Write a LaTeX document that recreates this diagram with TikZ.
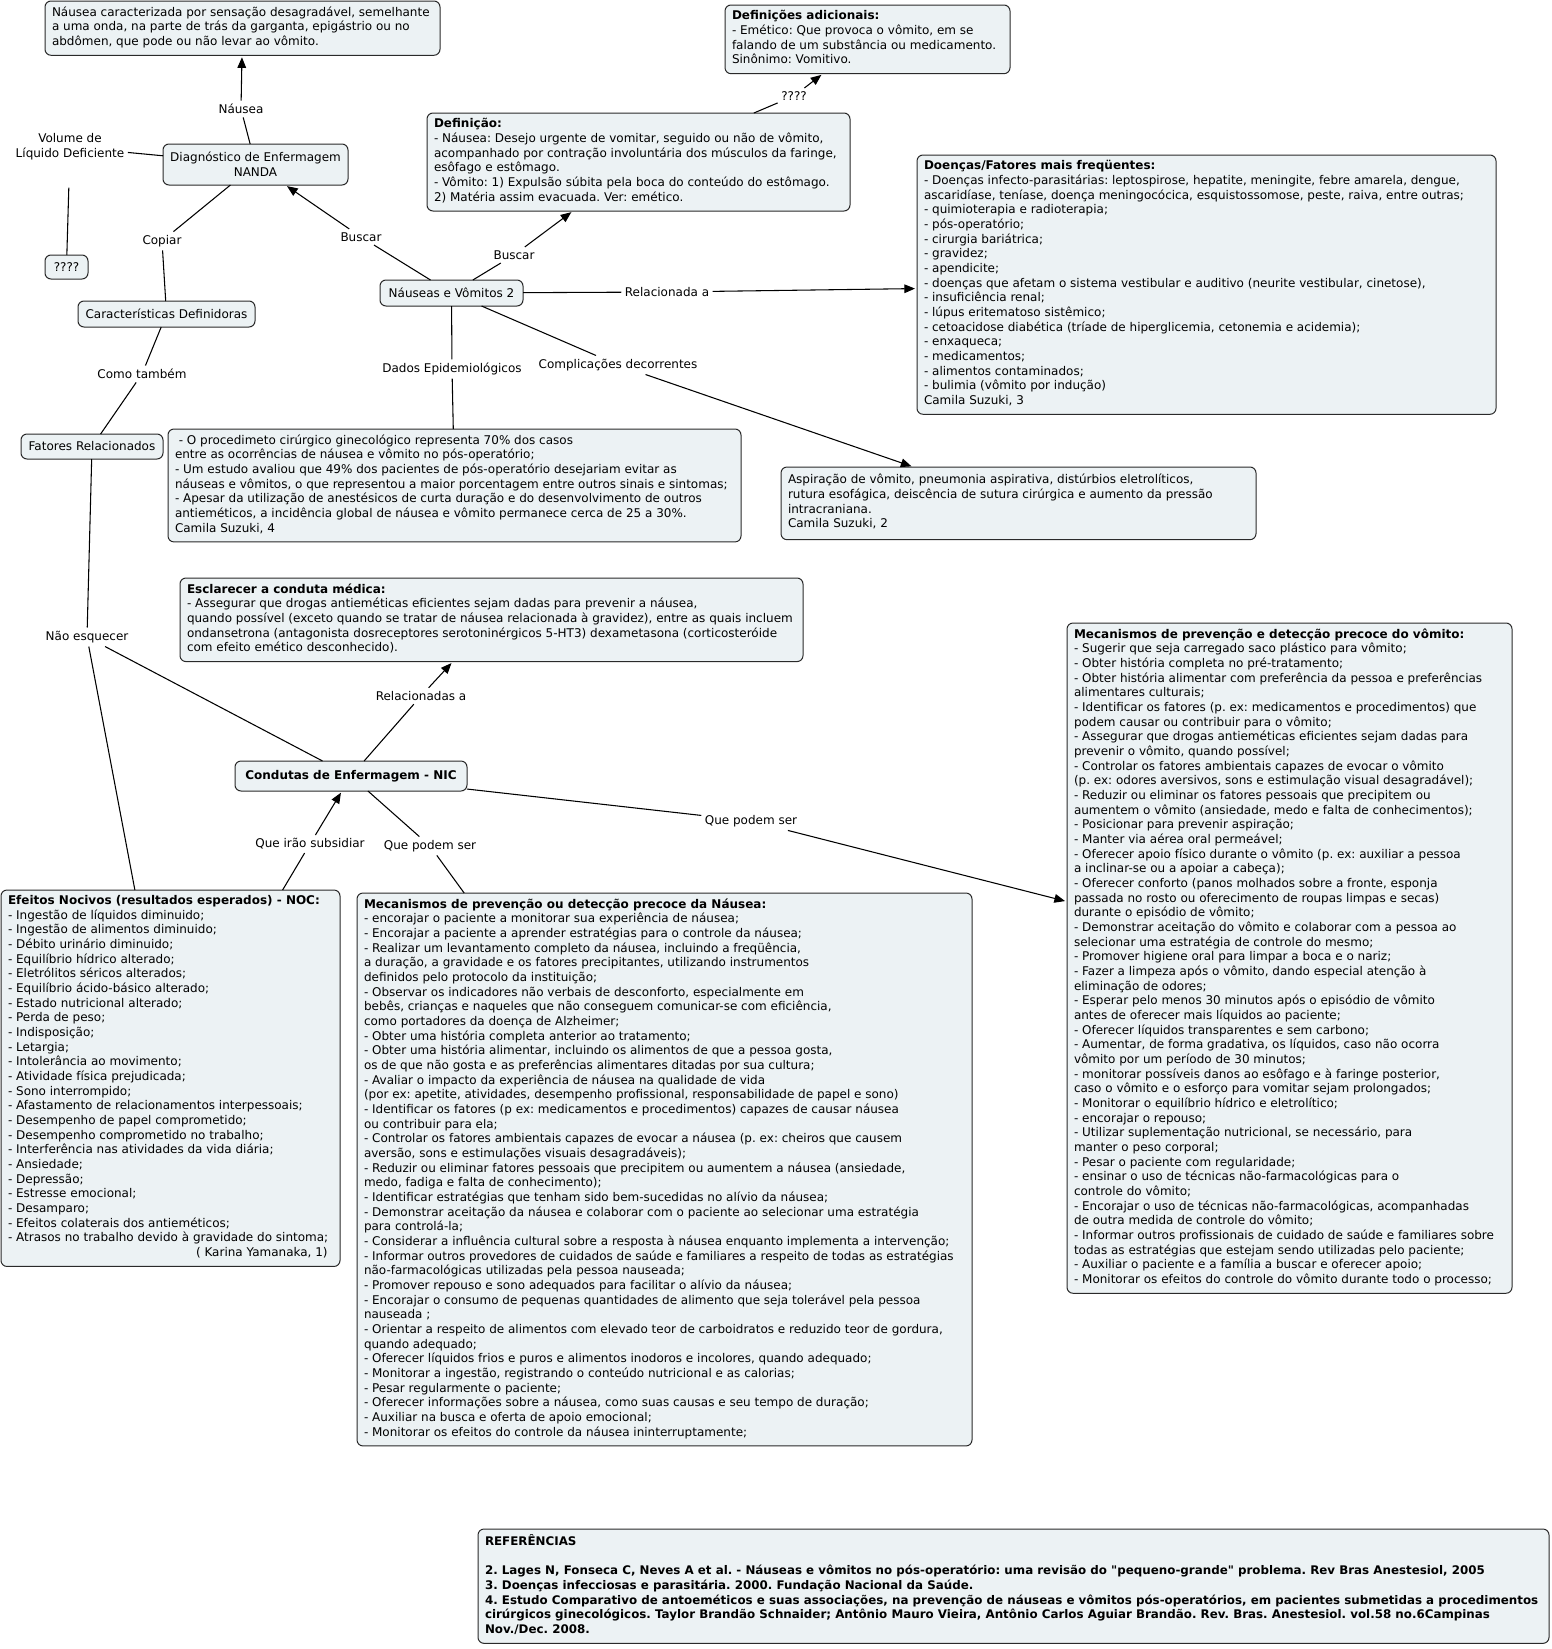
\documentclass[tikz,border=0pt]{standalone}
\usepackage{fontspec}
\setmainfont{DejaVu Sans}
\usetikzlibrary{arrows.meta}
\definecolor{boxfill}{HTML}{ECF2F4}
\definecolor{boxline}{HTML}{2A2A2A}
\newcommand\fs{\fontsize{9pt}{11pt}\selectfont\frenchspacing}
\newcommand\fl[2]{\makebox[\dimexpr #1pt*3/4 - 10.5pt\relax][l]{#2}}
\newcommand\fr[2]{\makebox[\dimexpr #1pt*3/4 - 10.5pt\relax][r]{#2}}
\newcommand\sq{{\addfontfeatures{Ligatures=TeXOff}"}}
\tikzset{
  cbox/.style={draw=boxline, line width=0.75pt, fill=boxfill, rounded corners=4.5pt, align=left,
    inner xsep=5.25pt, inner ysep=4.1pt, outer sep=0pt, anchor=north west, font=\fs,
    execute at begin node=\strut, execute at end node=\strut},
  sbox/.style={draw=boxline, line width=0.75pt, fill=boxfill, rounded corners=4.5pt, align=center,
    inner sep=2pt, outer sep=0pt, font=\fs},
  lbl/.style={align=center, inner sep=2.5pt, font=\fs},
  ln/.style={line width=0.8pt, draw=black},
  arr/.style={ln, -{Triangle[length=8pt,width=6.5pt]}, shorten >=1.5pt},
}
\begin{document}
\begin{tikzpicture}[x=0.75pt,y=-0.75pt]
\useasboundingbox (0,0) rectangle (1552,1649);

% ---------- boxes ----------
\node[cbox] (nausea) at (45,1) {\fl{395}{Náusea caracterizada por sensação desagradável, semelhante}\\a uma onda, na parte de trás da garganta, epigástrio ou no\\abdômen, que pode ou não levar ao vômito.};

\node[cbox] (defad) at (725,5) {\fl{285}{\textbf{Definições adicionais:}}\\- Emético: Que provoca o vômito, em se\\falando de um substância ou medicamento.\\Sinônimo: Vomitivo.};

\node[cbox] (defin) at (427,113) {\fl{423}{\textbf{Definição:}}\\- Náusea: Desejo urgente de vomitar, seguido ou não de vômito,\\acompanhado por contração involuntária dos músculos da faringe,\\esôfago e estômago.\\- Vômito: 1) Expulsão súbita pela boca do conteúdo do estômago.\\2) Matéria assim evacuada. Ver: emético.};

\node[cbox] (doencas) at (917,155) {\fl{579}{\textbf{Doenças/Fatores mais freqüentes:}}\\- Doenças infecto-parasitárias: leptospirose, hepatite, meningite, febre amarela, dengue,\\ascaridíase, teníase, doença meningocócica, esquistossomose, peste, raiva, entre outras;\\- quimioterapia e radioterapia;\\- pós-operatório;\\- cirurgia bariátrica;\\- gravidez;\\- apendicite;\\- doenças que afetam o sistema vestibular e auditivo (neurite vestibular, cinetose),\\- insuficiência renal;\\- lúpus eritematoso sistêmico;\\- cetoacidose diabética (tríade de hiperglicemia, cetonemia e acidemia);\\- enxaqueca;\\- medicamentos;\\- alimentos contaminados;\\- bulimia (vômito por indução)\\Camila Suzuki, 3};

\node[sbox, minimum width=138.75pt, minimum height=30.75pt] (diag) at (255.5,164.5) {Diagnóstico de Enfermagem\\NANDA};
\node[sbox, minimum width=32.25pt, minimum height=18pt] (qq) at (66.5,267) {????};
\node[sbox, minimum width=132.75pt, minimum height=19.5pt] (caract) at (166.5,314) {Características Definidoras};
\node[sbox, minimum width=106.5pt, minimum height=18.75pt] (fatores) at (92,446.5) {Fatores Relacionados};
\node[sbox, minimum width=107.25pt, minimum height=19.5pt] (nv) at (451.5,293) {Náuseas e Vômitos 2};
\node[sbox, minimum width=174pt, minimum height=22.5pt] (condutas) at (351,776) {\textbf{Condutas de Enfermagem - NIC}};

\node[cbox] (dados) at (168,429) {\fl{573}{\ - O procedimeto cirúrgico ginecológico representa 70\% dos casos}\\entre as ocorrências de náusea e vômito no pós-operatório;\\- Um estudo avaliou que 49\% dos pacientes de pós-operatório desejariam evitar as\\náuseas e vômitos, o que representou a maior porcentagem entre outros sinais e sintomas;\\- Apesar da utilização de anestésicos de curta duração e do desenvolvimento de outros\\antieméticos, a incidência global de náusea e vômito permanece cerca de 25 a 30\%.\\Camila Suzuki, 4};

\node[cbox, inner ysep=5.5pt] (compl) at (781,467) {\fl{475}{Aspiração de vômito, pneumonia aspirativa, distúrbios eletrolíticos,}\\rutura esofágica, deiscência de sutura cirúrgica e aumento da pressão\\intracraniana.\\Camila Suzuki, 2};

\node[cbox] (escl) at (180,578) {\fl{623}{\textbf{Esclarecer a conduta médica:}}\\- Assegurar que drogas antieméticas eficientes sejam dadas para prevenir a náusea,\\quando possível (exceto quando se tratar de náusea relacionada à gravidez), entre as quais incluem\\ondansetrona (antagonista dosreceptores serotoninérgicos 5-HT3) dexametasona (corticosteróide\\com efeito emético desconhecido).};

\node[cbox] (mecv) at (1067,623) {\fl{445}{\textbf{Mecanismos de prevenção e detecção precoce do vômito:}}\\- Sugerir que seja carregado saco plástico para vômito;\\- Obter história completa no pré-tratamento;\\- Obter história alimentar com preferência da pessoa e preferências\\alimentares culturais;\\- Identificar os fatores (p. ex: medicamentos e procedimentos) que\\podem causar ou contribuir para o vômito;\\- Assegurar que drogas antieméticas eficientes sejam dadas para\\prevenir o vômito, quando possível;\\- Controlar os fatores ambientais capazes de evocar o vômito\\(p. ex: odores aversivos, sons e estimulação visual desagradável);\\- Reduzir ou eliminar os fatores pessoais que precipitem ou\\aumentem o vômito (ansiedade, medo e falta de conhecimentos);\\- Posicionar para prevenir aspiração;\\- Manter via aérea oral permeável;\\- Oferecer apoio físico durante o vômito (p. ex: auxiliar a pessoa\\a inclinar-se ou a apoiar a cabeça);\\- Oferecer conforto (panos molhados sobre a fronte, esponja\\passada no rosto ou oferecimento de roupas limpas e secas)\\durante o episódio de vômito;\\- Demonstrar aceitação do vômito e colaborar com a pessoa ao\\selecionar uma estratégia de controle do mesmo;\\- Promover higiene oral para limpar a boca e o nariz;\\- Fazer a limpeza após o vômito, dando especial atenção à\\eliminação de odores;\\- Esperar pelo menos 30 minutos após o episódio de vômito\\antes de oferecer mais líquidos ao paciente;\\- Oferecer líquidos transparentes e sem carbono;\\- Aumentar, de forma gradativa, os líquidos, caso não ocorra\\vômito por um período de 30 minutos;\\- monitorar possíveis danos ao esôfago e à faringe posterior,\\caso o vômito e o esforço para vomitar sejam prolongados;\\- Monitorar o equilíbrio hídrico e eletrolítico;\\- encorajar o repouso;\\- Utilizar suplementação nutricional, se necessário, para\\manter o peso corporal;\\- Pesar o paciente com regularidade;\\- ensinar o uso de técnicas não-farmacológicas para o\\controle do vômito;\\- Encorajar o uso de técnicas não-farmacológicas, acompanhadas\\de outra medida de controle do vômito;\\- Informar outros profissionais de cuidado de saúde e familiares sobre\\todas as estratégias que estejam sendo utilizadas pelo paciente;\\- Auxiliar o paciente e a família a buscar e oferecer apoio;\\- Monitorar os efeitos do controle do vômito durante todo o processo;};

\node[cbox] (efeitos) at (1,890) {\fl{339}{\textbf{Efeitos Nocivos (resultados esperados) - NOC:}}\\- Ingestão de líquidos diminuido;\\- Ingestão de alimentos diminuido;\\- Débito urinário diminuido;\\- Equilíbrio hídrico alterado;\\- Eletrólitos séricos alterados;\\- Equilíbrio ácido-básico alterado;\\- Estado nutricional alterado;\\- Perda de peso;\\- Indisposição;\\- Letargia;\\- Intolerância ao movimento;\\- Atividade física prejudicada;\\- Sono interrompido;\\- Afastamento de relacionamentos interpessoais;\\- Desempenho de papel comprometido;\\- Desempenho comprometido no trabalho;\\- Interferência nas atividades da vida diária;\\- Ansiedade;\\- Depressão;\\- Estresse emocional;\\- Desamparo;\\- Efeitos colaterais dos antieméticos;\\- Atrasos no trabalho devido à gravidade do sintoma;\\\fr{339}{( Karina Yamanaka, 1)\hspace{4pt}}};

\node[cbox] (mecn) at (357,893) {\fl{615}{\textbf{Mecanismos de prevenção ou detecção precoce da Náusea:}}\\- encorajar o paciente a monitorar sua experiência de náusea;\\- Encorajar a paciente a aprender estratégias para o controle da náusea;\\- Realizar um levantamento completo da náusea, incluindo a freqüência,\\a duração, a gravidade e os fatores precipitantes, utilizando instrumentos\\definidos pelo protocolo da instituição;\\- Observar os indicadores não verbais de desconforto, especialmente em\\bebês, crianças e naqueles que não conseguem comunicar-se com eficiência,\\como portadores da doença de Alzheimer;\\- Obter uma história completa anterior ao tratamento;\\- Obter uma história alimentar, incluindo os alimentos de que a pessoa gosta,\\os de que não gosta e as preferências alimentares ditadas por sua cultura;\\- Avaliar o impacto da experiência de náusea na qualidade de vida\\(por ex: apetite, atividades, desempenho profissional, responsabilidade de papel e sono)\\- Identificar os fatores (p ex: medicamentos e procedimentos) capazes de causar náusea\\ou contribuir para ela;\\- Controlar os fatores ambientais capazes de evocar a náusea (p. ex: cheiros que causem\\aversão, sons e estimulações visuais desagradáveis);\\- Reduzir ou eliminar fatores pessoais que precipitem ou aumentem a náusea (ansiedade,\\medo, fadiga e falta de conhecimento);\\- Identificar estratégias que tenham sido bem-sucedidas no alívio da náusea;\\- Demonstrar aceitação da náusea e colaborar com o paciente ao selecionar uma estratégia\\para controlá-la;\\- Considerar a influência cultural sobre a resposta à náusea enquanto implementa a intervenção;\\- Informar outros provedores de cuidados de saúde e familiares a respeito de todas as estratégias\\não-farmacológicas utilizadas pela pessoa nauseada;\\- Promover repouso e sono adequados para facilitar o alívio da náusea;\\- Encorajar o consumo de pequenas quantidades de alimento que seja tolerável pela pessoa\\nauseada ;\\- Orientar a respeito de alimentos com elevado teor de carboidratos e reduzido teor de gordura,\\quando adequado;\\- Oferecer líquidos frios e puros e alimentos inodoros e incolores, quando adequado;\\- Monitorar a ingestão, registrando o conteúdo nutricional e as calorias;\\- Pesar regularmente o paciente;\\- Oferecer informações sobre a náusea, como suas causas e seu tempo de duração;\\- Auxiliar na busca e oferta de apoio emocional;\\- Monitorar os efeitos do controle da náusea ininterruptamente;};

\node[cbox, font=\fontsize{8.9pt}{11pt}\selectfont\frenchspacing\bfseries] (refs) at (478,1529) {\fl{1071}{REFERÊNCIAS}\\\mbox{}\\2. Lages N, Fonseca C, Neves A et al. - Náuseas e vômitos no pós-operatório: uma revisão do \sq pequeno-grande\sq\ problema. Rev Bras Anestesiol, 2005\\3. Doenças infecciosas e parasitária. 2000. Fundação Nacional da Saúde.\\4. Estudo Comparativo de antoeméticos e suas associações, na prevenção de náuseas e vômitos pós-operatórios, em pacientes submetidas a procedimentos\\cirúrgicos ginecológicos. Taylor Brandão Schnaider; Antônio Mauro Vieira, Antônio Carlos Aguiar Brandão. Rev. Bras. Anestesiol. vol.58 no.6Campinas\\Nov./Dec. 2008.};

% ---------- linking labels ----------
\node[lbl] (lNausea) at (241,109) {Náusea};
\node[lbl] (lVol) at (70,147) {Volume de\\Líquido Deficiente};
\node[lbl] (lCopiar) at (162,241) {Copiar};
\node[lbl] (lBuscarA) at (361,237) {Buscar};
\node[lbl] (lBuscarB) at (514,255) {Buscar};
\node[lbl] (lQQ) at (794,96) {????};
\node[lbl] (lRel) at (667,292) {Relacionada a};
\node[lbl] (lComo) at (142,374) {Como também};
\node[lbl] (lDados) at (452,369) {Dados Epidemiológicos};
\node[lbl] (lCompl) at (618,365) {Complicações decorrentes};
\node[lbl] (lNao) at (87,637) {Não esquecer};
\node[lbl] (lRelas) at (421,696) {Relacionadas a};
\node[lbl] (lQPSr) at (751,821) {Que podem ser};
\node[lbl] (lQIS) at (310,844) {Que irão subsidiar};
\node[lbl] (lQPSl) at (430,846) {Que podem ser};

% ---------- connectors ----------
\draw[ln] (diag) -- (lNausea);
\draw[arr] (lNausea) -- (nausea);
\draw[ln] (diag) -- (lVol);
\draw[ln, shorten <=18pt] (lVol) -- (qq);
\draw[ln] (diag) -- (lCopiar);
\draw[ln] (lCopiar) -- (caract);
\draw[ln] (caract) -- (lComo);
\draw[ln] (lComo) -- (fatores);
\draw[ln] (nv) -- (lBuscarA);
\draw[arr] (lBuscarA) -- (diag);
\draw[ln] (nv) -- (lBuscarB);
\draw[arr] (lBuscarB) -- (defin);
\draw[ln] (defin) -- (lQQ);
\draw[arr] (lQQ) -- (defad);
\draw[ln] (nv) -- (lRel);
\draw[arr] (lRel) -- (doencas);
\draw[ln] (nv) -- (lDados);
\draw[ln] (lDados) -- (dados);
\draw[ln] (nv) -- (lCompl);
\draw[arr] (lCompl) -- (compl);
\draw[ln] (fatores) -- (lNao);
\draw[ln] (lNao) -- (efeitos);
\draw[ln] (lNao) -- (condutas);
\draw[ln] (condutas) -- (lRelas);
\draw[arr] (lRelas) -- (escl);
\draw[ln] (efeitos) -- (lQIS);
\draw[arr] (lQIS) -- (condutas);
\draw[ln] (condutas) -- (lQPSl);
\draw[ln] (lQPSl) -- (mecn);
\draw[ln] (condutas) -- (lQPSr);
\draw[arr] (lQPSr) -- (mecv);
\end{tikzpicture}
\end{document}
